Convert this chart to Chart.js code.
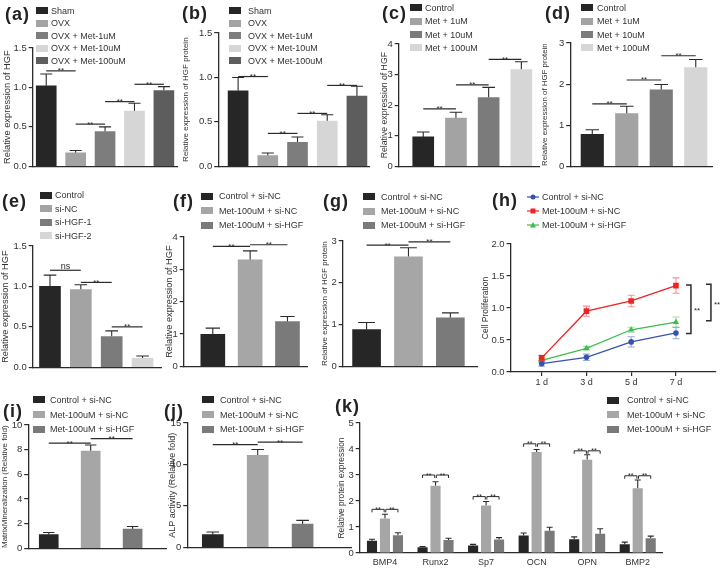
<!DOCTYPE html>
<html>
<head>
<meta charset="utf-8">
<script src="https://cdn.jsdelivr.net/npm/chart.js@4.4.1/dist/chart.umd.min.js"></script>
<style>
  body { margin: 0; background: #fff; font-family: "Liberation Sans", Arial, sans-serif; }
  #fig { position: relative; width: 722px; height: 570px; overflow: hidden; background: #fff; }
  #fig canvas { position: absolute; }
  .tag { position: absolute; font-weight: bold; font-size: 18px; letter-spacing: 1px; color: #222; line-height: 20px; }
  .leg { position: absolute; font-size: 9px; color: #333; white-space: nowrap; }
  .leg div { display: flex; align-items: center; }
  .leg i { display: inline-block; width: 12px; height: 7px; }
</style>
</head>
<body>
<div id="fig"></div>
<script>
Chart.defaults.font.family = '"Liberation Sans", Arial, sans-serif';
Chart.defaults.font.size = 9.5;
Chart.defaults.color = '#333';
const INK = '#2b2b2b';

// ---- data ----
const ovxGroups = ['Sham', 'OVX', 'OVX + Met-1uM', 'OVX + Met-10uM', 'OVX + Met-100uM'];
const aHgf = [1.02, 0.17, 0.44, 0.70, 0.96];
const aHgfErr = [0.15, 0.03, 0.06, 0.10, 0.05];
const aSig = [[0, 1, 1.21, '**'], [1, 2, 0.535, '**'], [2, 3, 0.82, '**'], [3, 4, 1.04, '**']];
const bProt = [0.85, 0.12, 0.27, 0.51, 0.79];
const bProtErr = [0.15, 0.03, 0.06, 0.07, 0.11];
const bSig = [[0, 1, 1.01, '**'], [1, 2, 0.37, '**'], [2, 3, 0.595, '**'], [3, 4, 0.91, '**']];

const doseGroups = ['Control', 'Met + 1uM', 'Met + 10uM', 'Met + 100uM'];
const cHgf = [0.96, 1.58, 2.25, 3.16];
const cHgfErr = [0.16, 0.19, 0.33, 0.26];
const cSig = [[0, 1, 1.88, '**'], [1, 2, 2.66, '**'], [2, 3, 3.5, '**']];
const dProt = [0.78, 1.28, 1.86, 2.40];
const dProtErr = [0.11, 0.18, 0.13, 0.20];
const dSig = [[0, 1, 1.52, '**'], [1, 2, 2.1, '**'], [2, 3, 2.69, '**']];

const siGroups = ['Control', 'si-NC', 'si-HGF-1', 'si-HGF-2'];
const eHgf = [1.00, 0.96, 0.38, 0.11];
const eHgfErr = [0.14, 0.06, 0.07, 0.03];
const eSig = [[0, 1, 1.2, 'ns'], [1, 2, 1.05, '**'], [2, 3, 0.5, '**']];

const rescueGroups = ['Control + si-NC', 'Met-100uM + si-NC', 'Met-100uM + si-HGF'];
const fHgf = [0.99, 3.29, 1.38];
const fHgfErr = [0.19, 0.28, 0.16];
const fSig = [[0, 1, 3.71, '**'], [1, 2, 3.76, '**']];
const gProt = [0.88, 2.62, 1.16];
const gProtErr = [0.17, 0.22, 0.12];
const gSig = [[0, 1, 2.9, '**'], [1, 2, 2.98, '**']];

const hDays = [1, 3, 5, 7];
const hDayLabels = ['1 d', '3 d', '5 d', '7 d'];
const hCtrl = [0.13, 0.23, 0.47, 0.61];
const hCtrlErr = [0.04, 0.05, 0.08, 0.09];
const hMetNC = [0.22, 0.95, 1.11, 1.35];
const hMetNCErr = [0.04, 0.08, 0.09, 0.12];
const hMetHGF = [0.18, 0.37, 0.66, 0.78];
const hMetHGFErr = [0.03, 0.03, 0.04, 0.08];
const hBrackets = [[1.36, 0.60], [1.37, 0.80]];

const iMin = [1.12, 7.88, 1.55];
const iMinErr = [0.16, 0.5, 0.22];
const iSig = [[0, 1, 8.53, '**'], [1, 2, 8.89, '**']];
const jAlp = [1.55, 11.1, 2.8];
const jAlpErr = [0.3, 0.7, 0.45];
const jSig = [[0, 1, 12.4, '**'], [1, 2, 12.7, '**']];

const genes = ['BMP4', 'Runx2', 'Sp7', 'OCN', 'OPN', 'BMP2'];
const kCtrl = [0.47, 0.22, 0.29, 0.67, 0.53, 0.34];
const kCtrlErr = [0.06, 0.03, 0.04, 0.10, 0.09, 0.08];
const kMetNC = [1.33, 2.59, 1.83, 3.88, 3.59, 2.49];
const kMetNCErr = [0.16, 0.15, 0.15, 0.10, 0.19, 0.32];
const kMetHGF = [0.68, 0.50, 0.52, 0.86, 0.74, 0.57];
const kMetHGFErr = [0.10, 0.07, 0.07, 0.13, 0.19, 0.08];
const kSig = [1.68, 3.0, 2.17, 4.2, 3.93, 2.97];

// ---- colours ----
const shades5 = ['#262626', '#a3a3a3', '#7d7d7d', '#d6d6d6', '#5d5d5d'];
const shades4 = ['#262626', '#a3a3a3', '#7b7b7b', '#d6d6d6'];
const shades3 = ['#262626', '#a6a6a6', '#7a7a7a'];
const hColors = ['#3553b3', '#ee2424', '#3dbd4f'];
const hErrColors = ['rgba(53,83,179,0.5)', 'rgba(238,36,36,0.5)', 'rgba(61,189,79,0.5)'];

const fig = document.getElementById('fig');
const extras = {};

const marks = {
  id: 'marks',
  beforeDatasetsDraw(chart) {
    const ex = extras[chart.canvas.id];
    const y = chart.scales.y, ctx = chart.ctx;
    ctx.save();
    chart.data.datasets.forEach((ds, di) => {
      if (!ds.errors) return;
      chart.getDatasetMeta(di).data.forEach((el, i) => {
        const raw = ds.data[i];
        const v = typeof raw === 'object' ? raw.y : raw;
        const e = ds.errors[i];
        const top = y.getPixelForValue(v + e);
        const bot = ex.both ? y.getPixelForValue(v - e) : el.y;
        const half = ex.cap || el.width * 0.3;
        ctx.strokeStyle = ds.errorColor || INK;
        ctx.lineWidth = 1.1;
        ctx.beginPath();
        ctx.moveTo(el.x, bot); ctx.lineTo(el.x, top);
        ctx.moveTo(el.x - half, top); ctx.lineTo(el.x + half, top);
        if (ex.both) { ctx.moveTo(el.x - half, bot); ctx.lineTo(el.x + half, bot); }
        ctx.stroke();
      });
    });
    ctx.restore();
  },
  afterDatasetsDraw(chart) {
    const ex = extras[chart.canvas.id];
    const y = chart.scales.y, ctx = chart.ctx;
    ctx.save();
    ctx.strokeStyle = INK;
    ctx.fillStyle = INK;
    ctx.textAlign = 'center';
    ctx.textBaseline = 'alphabetic';
    (ex.sig || []).forEach(([a, b, v, txt]) => {
      const bars = chart.getDatasetMeta(0).data;
      const x1 = bars[a].x, x2 = bars[b].x, yy = y.getPixelForValue(v);
      ctx.lineWidth = 1.2;
      ctx.beginPath(); ctx.moveTo(x1, yy); ctx.lineTo(x2, yy); ctx.stroke();
      if (txt === 'ns') {
        ctx.font = '9px "Liberation Sans", Arial';
        ctx.fillText(txt, (x1 + x2) / 2, yy - 1);
      } else {
        ctx.font = '8px "Liberation Sans", Arial';
        ctx.fillText(txt, (x1 + x2) / 2, yy + 2.5);
      }
    });
    (ex.groupSig || []).forEach((v, g) => {
      const xs = [0, 1, 2].map(d => chart.getDatasetMeta(d).data[g].x);
      const yy = y.getPixelForValue(v);
      ctx.lineWidth = 1;
      ctx.font = '7px "Liberation Sans", Arial';
      [[xs[0], xs[1] - 0.8], [xs[1] + 0.8, xs[2]]].forEach(([x1, x2]) => {
        ctx.beginPath();
        ctx.moveTo(x1, yy + 3); ctx.lineTo(x1, yy); ctx.lineTo(x2, yy); ctx.lineTo(x2, yy + 3);
        ctx.stroke();
        ctx.fillText('**', (x1 + x2) / 2, yy + 2.5);
      });
    });
    (ex.brackets || []).forEach(([a, b], k) => {
      const x = chart.scales.x.getPixelForValue(ex.bracketAt) + ex.bracketDx[k];
      const y1 = y.getPixelForValue(a), y2 = y.getPixelForValue(b);
      ctx.lineWidth = 1.5;
      ctx.beginPath();
      ctx.moveTo(x - 5, y1); ctx.lineTo(x, y1); ctx.lineTo(x, y2); ctx.lineTo(x - 5, y2);
      ctx.stroke();
      ctx.font = '8px "Liberation Sans", Arial';
      ctx.textAlign = 'left';
      ctx.fillText('**', x + 3, (y1 + y2) / 2 + 4);
    });
    ctx.restore();
  }
};

function addCanvas(id, left, top, w, h) {
  const c = document.createElement('canvas');
  c.id = id;
  c.width = Math.round(w); c.height = Math.round(h);
  c.style.left = left + 'px'; c.style.top = top + 'px';
  fig.appendChild(c);
  return c;
}

function tag(text, x, cy) {
  const d = document.createElement('div');
  d.className = 'tag';
  d.style.left = x + 'px'; d.style.top = (cy - 10) + 'px';
  d.textContent = text;
  fig.appendChild(d);
}

function legend(x, y, rowH, gap, names, colors, swatch) {
  const d = document.createElement('div');
  d.className = 'leg';
  d.style.left = x + 'px'; d.style.top = (y - rowH / 2) + 'px';
  names.forEach((n, i) => {
    const r = document.createElement('div');
    r.style.height = rowH + 'px';
    const sw = swatch ? swatch(i) : `<i style="background:${colors[i]}"></i>`;
    r.innerHTML = sw + `<span style="margin-left:${gap}px">${n}</span>`;
    d.appendChild(r);
  });
  fig.appendChild(d);
}

function yAxis(p, left) {
  return {
    min: 0, max: p.yMax,
    ticks: { stepSize: p.yStep, padding: 2, color: '#333', callback: v => v.toFixed(p.dec) },
    grid: { drawOnChartArea: false, drawTicks: true, tickLength: 4, color: INK, lineWidth: 1.2 },
    border: { color: INK, width: 1.3 },
    title: { display: true, text: p.title, padding: 0, color: '#333', font: { size: p.titleSize || 9.5 } },
    afterFit: s => { s.width = p.axisX - left; }
  };
}

function baseOptions(scales, padRight) {
  return {
    responsive: false, animation: false,
    layout: { padding: { top: 8, right: padRight || 0, bottom: 0, left: 0 }, autoPadding: false },
    plugins: { legend: { display: false }, tooltip: { enabled: false } },
    scales
  };
}

function barPanel(p) {
  const left = p.titleX - 5.7, top = p.topY - 8;
  const cv = addCanvas(p.id, left, top, p.endX - left, p.zeroY - top + 2);
  extras[p.id] = { sig: p.sig };
  new Chart(cv, {
    type: 'bar',
    data: {
      datasets: [{
        data: p.values.map((v, i) => ({ x: i + 1, y: v })),
        errors: p.errors,
        backgroundColor: p.colors,
        barThickness: p.barW
      }]
    },
    options: baseOptions({
      x: {
        type: 'linear', min: p.xMin, max: p.xMax, offset: false,
        ticks: { display: false },
        grid: { drawOnChartArea: false, drawTicks: false, offset: false },
        border: { color: INK, width: 1.3 },
        afterFit: s => { s.height = 2; }
      },
      y: yAxis(p, left)
    }),
    plugins: [marks]
  });
  legend(p.leg[0], p.leg[1], p.leg[2], p.leg[3], p.labels, p.colors);
}

const hgfTitle = 'Relative expression of HGF';
const protTitle = 'Relative expression of HGF protein';

barPanel({ id: 'a', titleX: 8, axisX: 33, endX: 178, topY: 48, zeroY: 172, yMax: 1.5, yStep: 0.5, dec: 1,
  title: hgfTitle, titleSize: 9.3, labels: ovxGroups, values: aHgf, errors: aHgfErr, colors: shades5, sig: aSig,
  xMin: 0.54, xMax: 5.48, barW: 20, leg: [36, 11, 12.4, 3] });
barPanel({ id: 'b', titleX: 186.5, axisX: 218, endX: 370, topY: 33, zeroY: 172, yMax: 1.5, yStep: 0.5, dec: 1,
  title: protTitle, titleSize: 8, labels: ovxGroups, values: bProt, errors: bProtErr, colors: shades5, sig: bSig,
  xMin: 0.33, xMax: 5.44, barW: 20, leg: [229, 11, 12.4, 7] });
barPanel({ id: 'c', titleX: 385, axisX: 399, endX: 540, topY: 44, zeroY: 172, yMax: 4, yStep: 1, dec: 0,
  title: hgfTitle, titleSize: 8.7, labels: doseGroups, values: cHgf, errors: cHgfErr, colors: shades4, sig: cSig,
  xMin: 0.25, xMax: 4.57, barW: 21, leg: [410, 8, 13.3, 3] });
barPanel({ id: 'd', titleX: 545.5, axisX: 570, endX: 713, topY: 43, zeroY: 172, yMax: 3, yStep: 1, dec: 0,
  title: protTitle, titleSize: 7.9, labels: doseGroups, values: dProt, errors: dProtErr, colors: shades4, sig: dSig,
  xMin: 0.36, xMax: 4.5, barW: 22.5, leg: [581, 8, 13.3, 4] });
barPanel({ id: 'e', titleX: 6, axisX: 33, endX: 162, topY: 246, zeroY: 373, yMax: 1.5, yStep: 0.5, dec: 1,
  title: hgfTitle, titleSize: 9.2, labels: siGroups, values: eHgf, errors: eHgfErr, colors: shades4, sig: eSig,
  xMin: 0.44, xMax: 4.63, barW: 21, leg: [40, 195.5, 13.4, 3] });
barPanel({ id: 'f', titleX: 170, axisX: 184, endX: 308, topY: 237, zeroY: 372, yMax: 4, yStep: 1, dec: 0,
  title: hgfTitle, titleSize: 9.2, labels: rescueGroups, values: fHgf, errors: fHgfErr, colors: shades3, sig: fSig,
  xMin: 0.22, xMax: 3.55, barW: 24, leg: [201, 196, 14.5, 6] });
barPanel({ id: 'g', titleX: 326, axisX: 343, endX: 478, topY: 241, zeroY: 372, yMax: 3, yStep: 1, dec: 0,
  title: protTitle, titleSize: 8, labels: rescueGroups, values: gProt, errors: gProtErr, colors: shades3, sig: gSig,
  xMin: 0.43, xMax: 3.66, barW: 28, leg: [363, 197, 14.2, 6] });
barPanel({ id: 'i', titleX: 5.5, axisX: 28, endX: 167, topY: 425, zeroY: 554, yMax: 10, yStep: 2, dec: 0,
  title: 'MatrixMineralization (Relative fold)', titleSize: 8, labels: rescueGroups, values: iMin, errors: iMinErr, colors: shades3, sig: iSig,
  xMin: 0.51, xMax: 3.82, barW: 19, leg: [33, 400, 14.7, 5] });
barPanel({ id: 'j', titleX: 172.5, axisX: 187, endX: 352, topY: 423, zeroY: 553, yMax: 15, yStep: 5, dec: 0,
  title: 'ALP activity (Relative fold)', titleSize: 9, labels: rescueGroups, values: jAlp, errors: jAlpErr, colors: shades3, sig: jSig,
  xMin: 0.43, xMax: 4.1, barW: 21, leg: [202, 400, 14.7, 6] });

// (h) proliferation curves
(function () {
  const p = { axisX: 511, yMax: 2, yStep: 0.5, dec: 1, title: 'Cell Proliferation', titleSize: 8.5 };
  const left = 486.5 - 5.1, top = 244 - 8, endX = 716;
  const cv = addCanvas('h', left, top, endX - left + 6, 372 - top + 18);
  extras.h = { both: true, cap: 3.5, brackets: hBrackets, bracketAt: 7, bracketDx: [15, 35] };
  const series = [[rescueGroups[0], hCtrl, hCtrlErr, 'circle', 2.8],
                  [rescueGroups[1], hMetNC, hMetNCErr, 'rect', 4],
                  [rescueGroups[2], hMetHGF, hMetHGFErr, 'triangle', 3.6]];
  new Chart(cv, {
    type: 'line',
    data: {
      datasets: series.map(([name, vals, errs, shape, r], k) => ({
        label: name,
        data: hDays.map((d, i) => ({ x: d, y: vals[i] })),
        errors: errs,
        errorColor: hErrColors[k],
        borderColor: hColors[k], backgroundColor: hColors[k],
        borderWidth: 1.3, pointStyle: shape, pointRadius: r, pointBorderWidth: 0
      }))
    },
    options: baseOptions({
      x: {
        type: 'linear', min: -0.39, max: 8.79,
        afterBuildTicks: s => { s.ticks = hDays.map(v => ({ value: v })); },
        ticks: { padding: 1, font: { size: 9 }, callback: v => hDayLabels[hDays.indexOf(v)] },
        grid: { drawOnChartArea: false, drawTicks: true, tickLength: 4, color: INK, lineWidth: 1.2 },
        border: { color: INK, width: 1.3 },
        afterFit: s => { s.height = 18; }
      },
      y: yAxis(p, left)
    }, 6),
    plugins: [marks]
  });
  const marker = i => {
    const c = hColors[i];
    const shape = i === 0 ? `<circle cx="6" cy="4" r="2.5" fill="${c}"/>`
      : i === 1 ? `<rect x="3.5" y="1.5" width="5" height="5" fill="${c}"/>`
      : `<polygon points="6,1 9,6.5 3,6.5" fill="${c}"/>`;
    return `<svg width="12" height="8"><line x1="0" y1="4" x2="12" y2="4" stroke="${c}" stroke-width="1.2"/>${shape}</svg>`;
  };
  legend(527, 197, 14, 3, rescueGroups, hColors, marker);
})();

// (k) osteogenic markers
(function () {
  const p = { axisX: 360, yMax: 5, yStep: 1, dec: 0, title: 'Relative protein expression', titleSize: 8.4 };
  const left = 343 - 5.7, top = 423 - 8, endX = 663;
  const cv = addCanvas('k', left, top, endX - left, 553 - top + 16);
  extras.k = { groupSig: kSig };
  const sets = [[kCtrl, kCtrlErr], [kMetNC, kMetNCErr], [kMetHGF, kMetHGFErr]];
  new Chart(cv, {
    type: 'bar',
    data: {
      labels: genes,
      datasets: sets.map(([vals, errs], k) => ({
        label: rescueGroups[k], data: vals, errors: errs,
        backgroundColor: shades3[k], categoryPercentage: 0.77, barPercentage: 0.78
      }))
    },
    options: baseOptions({
      x: {
        ticks: { padding: 4, font: { size: 9 } },
        grid: { drawOnChartArea: false, drawTicks: false },
        border: { color: INK, width: 1.3 },
        afterFit: s => { s.height = 16; }
      },
      y: yAxis(p, left)
    }),
    plugins: [marks]
  });
  legend(607, 400, 14.5, 8, rescueGroups, shades3);
})();

tag('(a)', 5, 13.5);
tag('(b)', 182, 12.5);
tag('(c)', 382, 12.5);
tag('(d)', 545, 12.5);
tag('(e)', 2, 201);
tag('(f)', 173, 201);
tag('(g)', 323, 201);
tag('(h)', 492, 200);
tag('(i)', 3, 411);
tag('(j)', 164, 411);
tag('(k)', 335, 406);
</script>
</body>
</html>
